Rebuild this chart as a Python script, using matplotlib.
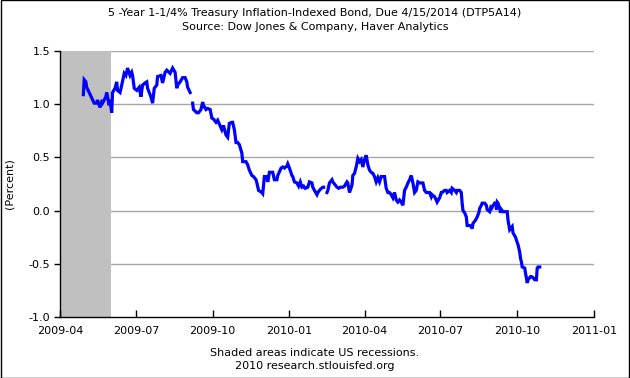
import numpy as np
import pandas as pd
import matplotlib
matplotlib.use("Agg")
import matplotlib.pyplot as plt
import matplotlib.dates as mdates

title = "5 -Year 1-1/4% Treasury Inflation-Indexed Bond, Due 4/15/2014 (DTP5A14)\nSource: Dow Jones & Company, Haver Analytics"
ylabel = "(Percent)"
footer = "Shaded areas indicate US recessions.\n2010 research.stlouisfed.org"

start_date = "2009-04-01"
# days since start_date (NaN value marks a gap in the series)
day_offsets = [
    28, 29, 31, 32, 35, 38, 41, 44, 45, 48, 50, 51, 55, 56, 59, 60, 62, 63, 66, 68,
    69, 72, 74, 77, 79, 81, 84, 86, 87, 89, 92, 95, 97, 99, 102, 104, 105, 109, 111, 113,
    116, 117, 121, 123, 126, 128, 132, 135, 138, 140, 141, 144, 147, 150, 152, 153, 156, 157,
    159, 160, 164, 166, 169, 171, 172, 175, 177, 180, 182, 184, 187, 189, 194, 196, 199, 201,
    203, 206, 207, 209, 211, 213, 215, 218, 219, 223, 225, 227, 230, 232, 235, 236, 238, 242,
    243, 245, 248, 249, 251, 255, 257, 260, 261, 265, 267, 269, 272, 273, 275, 278, 279, 281,
    284, 286, 288, 290, 291, 292, 294, 297, 299, 302, 303, 305, 308, 309, 312, 315, 316, 318,
    320, 321, 323, 326, 327, 329, 332, 334, 336, 339, 341, 344, 345, 347, 350, 351, 353, 355,
    357, 359, 361, 363, 365, 367, 369, 371, 373, 375, 377, 379, 381, 383, 385, 389, 391, 393,
    395, 397, 399, 401, 403, 405, 407, 409, 411, 413, 415, 417, 419, 421, 423, 425, 427, 429,
    431, 433, 435, 437, 439, 440, 443, 445, 446, 449, 451, 452, 455, 457, 458, 461, 463, 464,
    467, 469, 470, 473, 475, 476, 479, 481, 482, 483, 485, 487, 488, 491, 493, 494, 495, 498,
    500, 502, 503, 505, 506, 509, 511, 512, 515, 517, 518, 521, 522, 523, 524, 525, 527, 528,
    529, 531, 534, 536, 537, 539, 541, 542, 543, 546, 548, 549, 551, 552, 553, 554, 557, 558,
    559, 560, 561, 564, 565, 567, 569, 571, 572, 573, 575,
]
yields = [
    1.09, 1.23, 1.21, 1.16, 1.11, 1.06, 1.01, 1.01, 1.04, 0.97, 1.02, 1.01, 1.07, 1.11, 0.99, 1.04, 0.92, 1.11, 1.15, 1.21,
    1.13, 1.11, 1.18, 1.29, 1.27, 1.34, 1.27, 1.30, 1.27, 1.15, 1.13, 1.16, 1.07, 1.18, 1.20, 1.21, 1.15, 1.07, 1.01, 1.15,
    1.18, 1.26, 1.27, 1.20, 1.30, 1.32, 1.29, 1.34, 1.30, 1.15, 1.18, 1.21, 1.25, 1.25, 1.21, 1.16, 1.11, np.nan,
    1.01, 0.95, 0.92, 0.92, 0.95, 1.02, 0.99, 0.95, 0.96, 0.95, 0.87, 0.86, 0.83, 0.85, 0.76, 0.80, 0.71, 0.69,
    0.82, 0.83, 0.83, 0.76, 0.64, 0.64, 0.62, 0.54, 0.46, 0.46, 0.43, 0.38, 0.33, 0.32, 0.29, 0.26, 0.19, 0.17,
    0.16, 0.32, 0.32, 0.27, 0.36, 0.36, 0.29, 0.29, 0.33, 0.40, 0.41, 0.40, 0.42, 0.44, 0.40, 0.33, 0.32, 0.27,
    0.26, 0.23, 0.27, 0.22, np.nan, 0.23, 0.21, 0.22, 0.27, 0.26, 0.22, 0.19, 0.15, 0.17, 0.20, 0.22, 0.22, np.nan,
    0.17, 0.19, 0.26, 0.29, 0.27, 0.25, 0.22, 0.21, 0.22, 0.22, 0.23, 0.27, 0.26, 0.17, 0.24, 0.33, 0.35, 0.41,
    0.49, 0.46, 0.48, 0.41, 0.48, 0.52, 0.43, 0.38, 0.36, 0.35, 0.32, 0.27, 0.31, 0.27, 0.32, 0.32, 0.21, 0.17,
    0.17, 0.15, 0.12, 0.17, 0.10, 0.08, 0.10, 0.08, 0.05, 0.19, 0.22, 0.26, 0.29, 0.33, 0.26, 0.17, 0.19, 0.27,
    0.26, 0.26, 0.26, 0.19, 0.17, 0.17, 0.17, 0.13, 0.15, 0.13, 0.10, 0.08, 0.12, 0.17, 0.17, 0.19, 0.19, 0.17,
    0.19, 0.17, 0.21, 0.19, 0.17, 0.19, 0.19, 0.17, 0.07, 0.00, -0.02, -0.06, -0.14, -0.14, -0.15, -0.17, -0.12, -0.09,
    -0.06, -0.02, 0.02, 0.05, 0.07, 0.07, 0.05, 0.01, -0.01, 0.05, 0.03, 0.07, np.nan, 0.02, 0.08, 0.07, 0.02, -0.02,
    0.01, -0.01, -0.01, -0.01, -0.09, -0.18, -0.16, -0.15, -0.21, -0.25, -0.30, -0.32, -0.39, -0.45, -0.48, -0.53, -0.54, -0.59,
    -0.63, -0.68, -0.65, -0.62, -0.62, -0.63, -0.65, -0.65, -0.54, -0.53, -0.53,
]

recession_start = "2009-04-01"
recession_end = "2009-06-01"
x_min, x_max = "2009-04-01", "2011-01-01"
y_min, y_max = -1.0, 1.5
y_ticks = [-1.0, -0.5, 0.0, 0.5, 1.0, 1.5]

dates = pd.Timestamp(start_date) + pd.to_timedelta(day_offsets, unit="D")
series = pd.Series(yields, index=dates)

plt.rcParams["font.family"] = ["DejaVu Sans"]
fig = plt.figure(figsize=(6.30, 3.78), dpi=100)
fig.patch.set_facecolor("white")
# outer frame
fig.add_artist(plt.Rectangle((0.0008, 0.0013), 0.9984, 0.9974, transform=fig.transFigure,
                             fill=False, edgecolor="black", linewidth=1.0))

ax = fig.add_axes([0.0952, 0.1614, 0.8476, 0.7036])
ax.axvspan(pd.Timestamp(recession_start), pd.Timestamp(recession_end), color="#C0C0C0", zorder=1, lw=0)
for yt in y_ticks[1:]:
    ax.axhline(yt, color="#A8A8A8", linewidth=1.0, zorder=0.5)
ax.plot(series.index, series.values, color="#0000FF", linewidth=2.3, zorder=3,
        solid_joinstyle="miter")

ax.set_xlim(pd.Timestamp(x_min), pd.Timestamp(x_max))
ax.set_ylim(y_min, y_max)
ax.set_yticks(y_ticks)
ax.set_yticklabels([f"{v:.1f}" for v in y_ticks])
ax.xaxis.set_major_locator(mdates.MonthLocator(bymonth=[1, 4, 7, 10]))
ax.xaxis.set_major_formatter(mdates.DateFormatter("%Y-%m"))

for s in ["top", "right"]:
    ax.spines[s].set_visible(False)
for s in ["left", "bottom"]:
    ax.spines[s].set_color("black")
    ax.spines[s].set_linewidth(1.0)
ax.tick_params(axis="x", direction="in", length=5, width=1, labelsize=8, pad=6.5)
ax.tick_params(axis="y", direction="out", length=4, width=1, labelsize=8, pad=3)

fig.text(10 / 630, 1 - 184 / 378, ylabel, rotation=90, ha="center", va="center", fontsize=8)
fig.text(0.5, 0.979, title, ha="center", va="top", fontsize=8, linespacing=1.5)
fig.text(0.5, 0.08, footer, ha="center", va="top", fontsize=8, linespacing=1.35)

fig.savefig("out.png", dpi=100, facecolor="white")
